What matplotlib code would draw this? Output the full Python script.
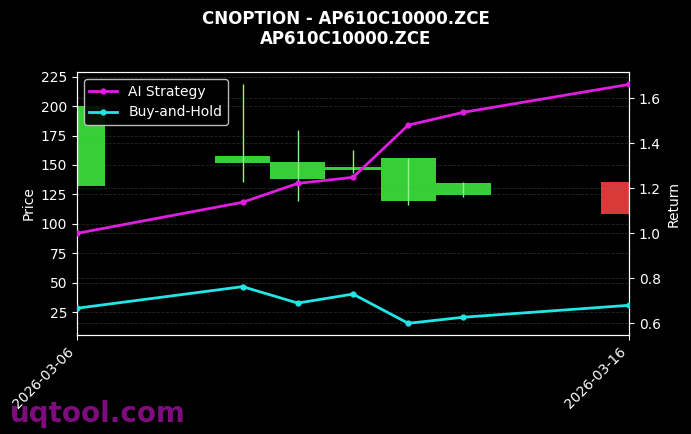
import matplotlib
matplotlib.use("Agg")
import matplotlib.pyplot as plt
import matplotlib.dates as mdates
import numpy as np
import pandas as pd

dates = ["2026-03-06", "2026-03-09", "2026-03-10", "2026-03-11",
         "2026-03-12", "2026-03-13", "2026-03-16"]
opens = [132.0, 152.0, 138.5, 145.5, 119.0, 124.6, 135.4]
closes = [200.5, 157.4, 152.3, 148.3, 155.6, 134.8, 108.2]
highs = [200.5, 218.5, 179.5, 162.5, 156.3, 135.4, 135.4]
lows = [132.0, 135.6, 119.5, 143.0, 115.8, 122.9, 108.2]
ai_strategy = [1.0, 1.138, 1.222, 1.249, 1.481, 1.538, 1.662]
buy_hold = [0.667, 0.763, 0.69, 0.73, 0.60, 0.627, 0.68]

x = mdates.date2num(pd.to_datetime(dates))

fig = plt.figure(figsize=(6.91, 4.34), dpi=100, facecolor="black")
ax = fig.add_axes([0.1114, 0.2281, 0.7989, 0.6059])
ax.set_facecolor("black")
ax2 = ax.twinx()

up_color = "#36cf36"
down_color = "#d83a3a"
for xi, o, c, h, l in zip(x, opens, closes, highs, lows):
    color = up_color if c >= o else down_color
    wick = "#8cf58c" if c >= o else "#f08080"
    ax.vlines(xi, l, h, color=wick, linewidth=1, zorder=3)
    ax.bar(xi, abs(c - o), bottom=min(o, c), width=1.0, color=color, zorder=2)

ax2.plot(x, ai_strategy, color="#e01ee0", linewidth=2, marker="o",
         markersize=3.5, label="AI Strategy", zorder=4)
ax2.plot(x, buy_hold, color="#22e6e6", linewidth=2, marker="o",
         markersize=3.5, label="Buy-and-Hold", zorder=4)

ax.set_xlim(x[0], x[-1])
ax.set_ylim(5.5, 229)
ax2.set_ylim(0.548, 1.717)
ax.set_yticks(np.arange(25, 226, 25))

ax.set_xticks([x[0], x[-1]])
ax.xaxis.set_major_formatter(mdates.DateFormatter("%Y-%m-%d"))
for label in ax.get_xticklabels():
    label.set_rotation(45)
    label.set_ha("right")

for axis in (ax, ax2):
    axis.tick_params(colors="white", labelsize=10)
    for spine in axis.spines.values():
        spine.set_color("white")
    axis.grid(True, axis="y", linestyle="--", color="gray", alpha=0.28, linewidth=0.6)

ax.set_ylabel("Price", color="white", fontsize=10)
ax2.set_ylabel("Return", color="white", fontsize=10)

leg = ax2.legend(loc="upper left", facecolor="black", edgecolor="#cccccc",
                 labelcolor="white", fontsize=10, framealpha=0.9)

fig.suptitle("CNOPTION - AP610C10000.ZCE\nAP610C10000.ZCE", color="white",
             fontsize=12, fontweight="bold", y=0.978)

fig.text(0.014, 0.028, "uqtool.com", color="#8e0e8e", fontsize=20,
         fontweight="bold", alpha=0.9, zorder=10)

fig.savefig("out.png", dpi=100, facecolor="black")
